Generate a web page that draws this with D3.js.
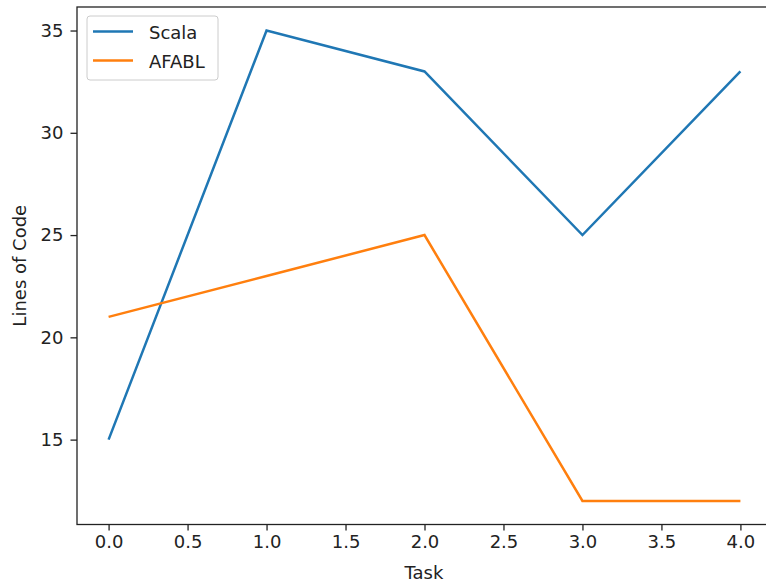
<!DOCTYPE html>
<html>
<head>
<meta charset="utf-8">
<script src="https://cdn.jsdelivr.net/npm/d3@7"></script>
<style>
  body { margin: 0; background: #fff; }
  text { font-family: "DejaVu Sans", sans-serif; fill: #222; }
</style>
</head>
<body>
<svg id="chart" width="766" height="585"></svg>
<script>
// data
let tasks = [0, 1, 2, 3, 4];
let scala = [15, 35, 33, 25, 33];
let afabl = [21, 23, 25, 12, 12];
let xTicks = [0, 0.5, 1, 1.5, 2, 2.5, 3, 3.5, 4];
let yTicks = [15, 20, 25, 30, 35];
let seriesNames = ['Scala', 'AFABL'];
let seriesColors = ['#1f77b4', '#ff7f0e'];

let svg = d3.select('#chart');
let mLeft = 77, mRight = 772, mTop = 7, mBottom = 524.5;
let fs = '18px';

let x = d3.scaleLinear().domain([-0.2, 4.2]).range([mLeft, mRight]);
let y = d3.scaleLinear().domain([10.85, 36.15]).range([mBottom, mTop]);

// axes
let xAxis = svg.append('g')
  .attr('transform', 'translate(0,' + mBottom + ')')
  .call(d3.axisBottom(x).tickValues(xTicks).tickFormat(d3.format('.1f')).tickSize(6).tickPadding(5));
let yAxis = svg.append('g')
  .attr('transform', 'translate(' + mLeft + ',0)')
  .call(d3.axisLeft(y).tickValues(yTicks).tickSize(6.5).tickPadding(7));

[xAxis, yAxis].forEach((a) => {
  a.select('.domain').remove();
  a.selectAll('line').attr('stroke', '#222').attr('stroke-width', 1.3);
  a.selectAll('text').style('font-size', fs).attr('fill', '#222');
});

// spines
svg.append('rect')
  .attr('x', mLeft).attr('y', mTop)
  .attr('width', mRight - mLeft).attr('height', mBottom - mTop)
  .attr('fill', 'none').attr('stroke', '#222').attr('stroke-width', 1.3);

// lines
let line = d3.line().x((d, i) => x(tasks[i])).y((d) => y(d));
[scala, afabl].forEach((s, i) => {
  svg.append('path')
    .datum(s)
    .attr('d', line)
    .attr('fill', 'none')
    .attr('stroke', seriesColors[i])
    .attr('stroke-width', 2.5)
    .attr('stroke-linejoin', 'miter');
});

// axis labels
svg.append('text')
  .attr('x', 424).attr('y', 578.5)
  .attr('text-anchor', 'middle')
  .style('font-size', fs)
  .text('Task');
svg.append('text')
  .attr('transform', 'translate(25.5,' + ((mTop + mBottom) / 2) + ') rotate(-90)')
  .attr('text-anchor', 'middle')
  .style('font-size', fs)
  .text('Lines of Code');

// legend
let legend = svg.append('g');
legend.append('rect')
  .attr('x', 87).attr('y', 16)
  .attr('width', 131).attr('height', 64)
  .attr('rx', 3)
  .attr('fill', 'rgba(255,255,255,0.8)')
  .attr('stroke', '#ccc').attr('stroke-width', 1);
seriesNames.forEach((n, i) => {
  let yy = 31.5 + i * 29;
  legend.append('line')
    .attr('x1', 93).attr('x2', 133)
    .attr('y1', yy).attr('y2', yy)
    .attr('stroke', seriesColors[i]).attr('stroke-width', 2.5);
  legend.append('text')
    .attr('x', 149).attr('y', yy + 7.3)
    .style('font-size', fs)
    .text(n);
});
</script>
</body>
</html>
